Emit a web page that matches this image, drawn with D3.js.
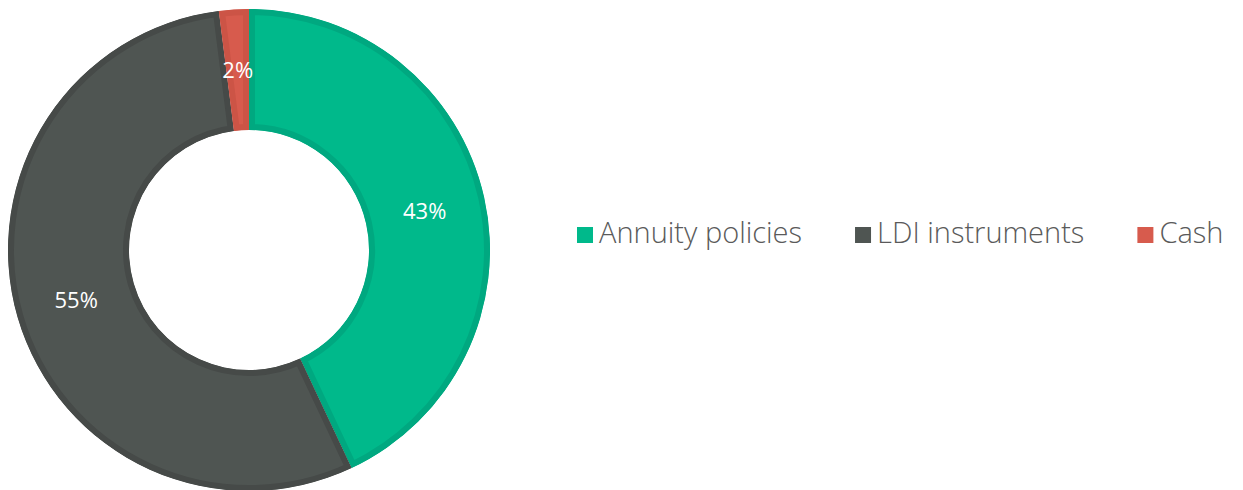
<!DOCTYPE html>
<html>
<head>
<meta charset="utf-8">
<script src="https://cdn.jsdelivr.net/npm/d3@7"></script>
<style>
  body { margin: 0; background: #fff; }
  svg { display: block; }
  text { font-family: "Open Sans", sans-serif; }
</style>
</head>
<body>
<div id="chart"></div>
<script>
// data
var categories = ["Annuity policies", "LDI instruments", "Cash"];
var shares = [43, 55, 2];
var fills = ["#00b98b", "#4f5552", "#d75b4d"];
var borders = ["#00a880", "#464a48", "#cc5446"];

var width = 1243, height = 490;
var cx = 249, cy = 250, outerR = 241, innerR = 120;

var svg = d3.select("#chart").append("svg")
  .attr("width", width)
  .attr("height", height);

var pie = d3.pie().sort(null).value(function(d) { return d; });
var arc = d3.arc().innerRadius(innerR).outerRadius(outerR);
var arcs = pie(shares);

var defs = svg.append("defs");
var g = svg.append("g").attr("transform", "translate(" + cx + "," + cy + ")");

// each slice: fill + darker inner border (stroke clipped to the slice)
arcs.forEach(function(a, i) {
  defs.append("clipPath").attr("id", "clip" + i)
    .append("path").attr("d", arc(a));
  g.append("path")
    .attr("d", arc(a))
    .attr("fill", fills[i])
    .attr("stroke", borders[i])
    .attr("stroke-width", 12)
    .attr("clip-path", "url(#clip" + i + ")");
});

// percentage labels
var labelArc = d3.arc().innerRadius(180).outerRadius(180);
g.selectAll("text.pct")
  .data(arcs).enter()
  .append("text")
    .attr("class", "pct")
    .attr("transform", function(d) { return "translate(" + labelArc.centroid(d) + ")"; })
    .attr("text-anchor", "middle")
    .attr("dy", "0.36em")
    .attr("fill", "#fff")
    .style("font-size", "22px")
    .text(function(d) { return d.data + "%"; });

// legend
var legend = svg.append("g").attr("transform", "translate(577,235)");
var x = 0;
categories.forEach(function(c, i) {
  var item = legend.append("g").attr("transform", "translate(" + x + ",0)");
  item.append("rect")
    .attr("x", 0).attr("y", -8)
    .attr("width", 16).attr("height", 16)
    .attr("fill", fills[i]);
  var t = item.append("text")
    .attr("x", 22)
    .attr("y", 8)
    .attr("fill", "#5a5a5a")
    .style("font-size", "29px")
    .style("font-weight", 300)
    .text(c);
  x += 22 + t.node().getComputedTextLength() + 53;
});
</script>
</body>
</html>
